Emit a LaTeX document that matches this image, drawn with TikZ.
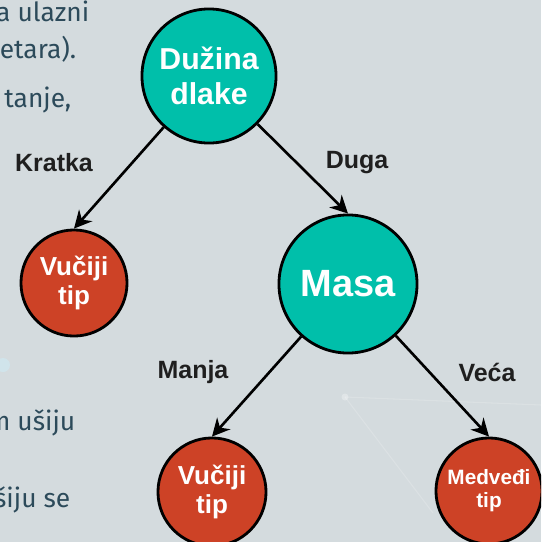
\documentclass[tikz,border=0pt]{standalone}
\usepackage{fontspec}
\setmainfont{Liberation Sans}
\newfontfamily\slidefont{Fira Sans}
\usetikzlibrary{arrows.meta}
\definecolor{bgslide}{HTML}{D4DBDE}
\definecolor{tealnode}{HTML}{00BFAA}
\definecolor{rednode}{HTML}{CD4226}
\definecolor{slidetext}{HTML}{2C4A5A}
\tikzset{
  question/.style={circle,draw=black,line width=0.8pt,fill=tealnode,text=white,font=\bfseries,align=center,inner sep=0pt},
  leaf/.style={circle,draw=black,line width=0.8pt,fill=rednode,text=white,align=center,inner sep=0pt,minimum size=1.06cm},
  branch/.style={-{Stealth[length=5pt,width=5pt,inset=1.6pt]},line width=0.75pt,black},
  answer/.style={font=\bfseries\fontsize{7.1pt}{8pt}\selectfont,text=black!88},
  slide/.style={anchor=base east,font=\slidefont\fontsize{7.5pt}{9pt}\selectfont,text=slidetext,inner sep=0pt},
}
\begin{document}
\begin{tikzpicture}[x=0.01cm,y=-0.01cm]
\fill[bgslide] (0,0) rectangle (541,542);
\useasboundingbox (0,0) rectangle (541,542);
\clip (0,0) rectangle (541,542);
%\draw[step=50,gray,very thin] (0,0) grid (541,542); %background grid
\draw[white,opacity=0.18,line width=0.3pt] (345,397) -- (433,513);
\draw[white,opacity=0.18,line width=0.3pt] (345,397) -- (541,405);
\fill[white,opacity=0.3] (345,397) circle (3.5);
\fill[cyan!20,opacity=0.45] (3,365) circle (7);
% slide text behind the tree
\node[slide] (s1) at (90,21)  {a ulazni};
\node[slide] (s2) at (77,58)  {etara).};
\node[slide] (s3) at (72,107) {tanje,};
\node[slide] (s4) at (76,430) {m ušiju};
\node[slide] (s5) at (71,507) {šiju se};
% tree
\node[question,minimum size=1.34cm,font=\bfseries\fontsize{8.6pt}{10pt}\selectfont] (dlaka) at (209,76) {Dužina\\dlake}; %root
\node[question,minimum size=1.38cm,font=\bfseries\fontsize{10.8pt}{12pt}\selectfont] (masa) at (348,284) {Masa};
\node[leaf,font=\bfseries\fontsize{7.4pt}{8.5pt}\selectfont] (vuk1) at (74,283) {Vučiji\\tip};
\node[leaf,minimum size=1.08cm,font=\bfseries\fontsize{7.4pt}{8.5pt}\selectfont] (vuk2) at (212,492) {Vučiji\\tip};
\node[leaf,font=\bfseries\fontsize{5.9pt}{6.6pt}\selectfont] (medved) at (489,491) {Medveđi\\tip};
\draw[branch] (dlaka) -- (vuk1.north);
\draw[branch] (dlaka) -- (masa.north);
\draw[branch] (masa) -- (vuk2.north);
\draw[branch] (masa) -- (medved.north);
\node[answer] (kratka) at (54,163) {Kratka};
\node[answer] (duga) at (357,163) {Duga};
\node[answer] (manja) at (193,372) {Manja};
\node[answer] (veca) at (487,372) {Veća};
\end{tikzpicture}
\end{document}
